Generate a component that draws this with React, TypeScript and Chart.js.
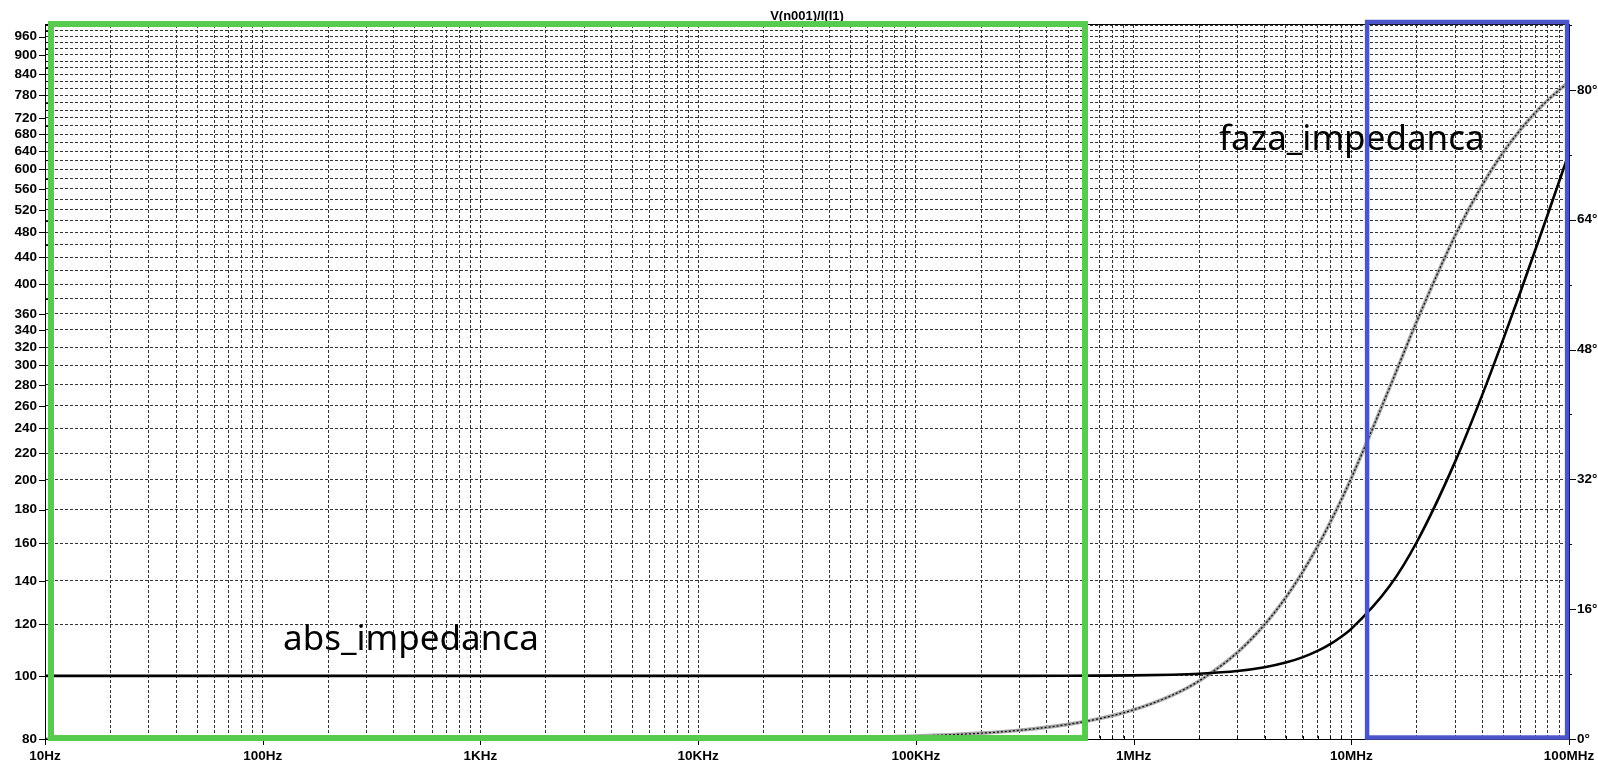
import React, { useEffect, useRef } from 'react';
import { Chart, registerables } from 'chart.js';

Chart.register(...registerables);

// ---- data (frequency in Hz) ----
const frequencies = [
  10, 30, 100, 300, 1e3, 3e3, 1e4, 3e4,
  1e5, 2e5, 3e5, 5e5, 7e5,
  1e6, 1.5e6, 2e6, 3e6, 4e6, 5e6, 6e6, 7e6, 8e6, 9e6,
  1e7, 1.5e7, 2e7, 3e7, 4e7, 5e7, 6e7, 7e7, 8e7, 9e7,
  1e8,
];
const absImpedance = [
  100, 100, 100, 100, 100, 100, 100, 100,
  100, 100.01, 100.02, 100.05, 100.1,
  100.2, 100.44, 100.79, 101.76, 103.11, 104.82, 106.87, 109.24, 111.92, 114.88,
  118.1, 137.4, 160.6, 213.4, 270.5, 329.7, 390.0, 451.1, 512.5, 574.3,
  636.2,
];
const phaseImpedance = [
  0, 0, 0, 0, 0, 0.01, 0.04, 0.11,
  0.36, 0.72, 1.08, 1.8, 2.52,
  3.6, 5.38, 7.16, 10.67, 14.11, 17.44, 20.66, 23.74, 26.69, 29.49,
  32.14, 43.3, 51.49, 62.05, 68.3, 72.34, 75.14, 77.19, 78.75, 79.97,
  80.96,
];

// ---- axes ----
const xDecadeLabels = ['10Hz', '100Hz', '1KHz', '10KHz', '100KHz', '1MHz', '10MHz', '100MHz'];
const absGridValues = [
  80, 100, 120, 140, 160, 180, 200, 220, 240, 260, 280, 300, 320, 340, 360, 380, 400,
  420, 440, 460, 480, 500, 520, 540, 560, 580, 600, 620, 640, 660, 680, 700, 720, 740,
  760, 780, 800, 820, 840, 860, 880, 900, 920, 940, 960, 980, 1000,
];
const absTickLabels = [
  80, 100, 120, 140, 160, 180, 200, 220, 240, 260, 280, 300, 320, 340, 360,
  400, 440, 480, 520, 560, 600, 640, 680, 720, 780, 840, 900, 960,
];
const phaseTickValues = [0, 8, 16, 24, 32, 40, 48, 56, 64, 72, 80, 88];
const phaseTickLabels = [0, 16, 32, 48, 64, 80];

const titleText = 'V(n001)/I(I1)';
const absLabelText = 'abs_impedanca';
const phaseLabelText = 'faza_impedanca';

// annotation anchors (data space)
const absLabelAnchor = { f: 124, z: 109.6 };
const phaseLabelAnchor = { f: 2.47e6, deg: 72.6 };
const greenBox = { fMin: 10.655, fMax: 5.987e5, zMin: 80.28, zMax: 1003.4 };
const blueBox = { fMin: 1.182e7, fMax: 9.8e7, degMin: 0.18, degMax: 88.37 };

const xGridValues: number[] = [];
for (let d = 1; d <= 7; d++) {
  for (let m = 1; m <= 9; m++) xGridValues.push(m * Math.pow(10, d));
}
xGridValues.push(1e8);

const tickFont = { family: '"Liberation Sans", Arial, sans-serif', size: 13.5, weight: 'bold' as const };

const overlayPlugin = {
  id: 'overlay',
  afterDatasetsDraw(chart: any) {
    const { ctx, chartArea: a, scales } = chart;
    const xs = scales.x, ys = scales.y, y2 = scales.y2;
    ctx.save();
    ctx.setLineDash([]);
    ctx.strokeStyle = '#000';
    ctx.lineWidth = 1;
    // frame
    ctx.strokeRect(a.left + 0.5, a.top - 0.5, a.right - a.left, a.bottom - a.top + 1);
    // tick marks
    ctx.beginPath();
    for (const v of absGridValues) {
      const py = Math.round(ys.getPixelForValue(v)) + 0.5;
      if (absTickLabels.includes(v)) {
        ctx.moveTo(a.left - 6, py); ctx.lineTo(a.left + 1, py);
      } else {
        ctx.moveTo(a.left, py); ctx.lineTo(a.left + 3, py);
      }
    }
    for (const v of xGridValues) {
      const px = Math.round(xs.getPixelForValue(v)) + 0.5;
      const isDecade = Math.abs(Math.log10(v) - Math.round(Math.log10(v))) < 1e-9;
      if (isDecade) {
        ctx.moveTo(px, a.bottom); ctx.lineTo(px, a.bottom + 6);
      } else {
        ctx.moveTo(px, a.bottom - 3); ctx.lineTo(px, a.bottom);
      }
    }
    for (const v of phaseTickValues) {
      const py = Math.round(y2.getPixelForValue(v)) + 0.5;
      if (phaseTickLabels.includes(v)) {
        ctx.moveTo(a.right, py); ctx.lineTo(a.right + 7, py);
      } else {
        ctx.moveTo(a.right, py); ctx.lineTo(a.right + 3, py);
      }
    }
    ctx.stroke();

    // title
    ctx.fillStyle = '#000';
    ctx.font = 'bold 13px "Liberation Sans", Arial, sans-serif';
    ctx.textAlign = 'center';
    ctx.textBaseline = 'alphabetic';
    ctx.fillText(titleText, (a.left + a.right) / 2, 20);

    // trace labels
    ctx.font = '35px "Noto Sans", sans-serif';
    ctx.textAlign = 'left';
    ctx.fillText(absLabelText, xs.getPixelForValue(absLabelAnchor.f), ys.getPixelForValue(absLabelAnchor.z));
    ctx.fillText(phaseLabelText, xs.getPixelForValue(phaseLabelAnchor.f), y2.getPixelForValue(phaseLabelAnchor.deg));

    // highlight boxes
    const gx0 = xs.getPixelForValue(greenBox.fMin), gx1 = xs.getPixelForValue(greenBox.fMax);
    const gy0 = ys.getPixelForValue(greenBox.zMax), gy1 = ys.getPixelForValue(greenBox.zMin);
    ctx.strokeStyle = '#57cb4d';
    ctx.lineWidth = 6;
    ctx.strokeRect(gx0, gy0, gx1 - gx0, gy1 - gy0);

    const bx0 = xs.getPixelForValue(blueBox.fMin), bx1 = xs.getPixelForValue(blueBox.fMax);
    const by0 = y2.getPixelForValue(blueBox.degMax), by1 = y2.getPixelForValue(blueBox.degMin);
    ctx.strokeStyle = '#4b55c9';
    ctx.lineWidth = 4.5;
    ctx.strokeRect(bx0, by0, bx1 - bx0, by1 - by0);
    ctx.restore();
  },
};

export default function App() {
  const canvasRef = useRef<HTMLCanvasElement | null>(null);

  useEffect(() => {
    const canvas = canvasRef.current;
    if (!canvas) return;
    const absPoints = frequencies.map((f, i) => ({ x: f, y: absImpedance[i] }));
    const phasePoints = frequencies.map((f, i) => ({ x: f, y: phaseImpedance[i] }));

    const chart = new Chart(canvas, {
      type: 'line',
      data: {
        datasets: [
          {
            label: absLabelText,
            data: absPoints,
            yAxisID: 'y',
            borderColor: '#000',
            borderWidth: 2.6,
            pointRadius: 0,
            cubicInterpolationMode: 'monotone',
            order: 1,
          },
          {
            label: phaseLabelText + ' dots',
            data: phasePoints,
            yAxisID: 'y2',
            borderColor: '#111',
            borderWidth: 1.3,
            borderDash: [2, 2],
            pointRadius: 0,
            cubicInterpolationMode: 'monotone',
            order: 2,
          },
          {
            label: phaseLabelText,
            data: phasePoints,
            yAxisID: 'y2',
            borderColor: '#a8a8a8',
            borderWidth: 3.6,
            pointRadius: 0,
            cubicInterpolationMode: 'monotone',
            order: 3,
          },
        ],
      },
      options: {
        animation: false,
        responsive: false,
        maintainAspectRatio: false,
        devicePixelRatio: 1,
        layout: { padding: { top: 25, left: 0, right: 0, bottom: 0 } },
        plugins: {
          legend: { display: false },
          tooltip: { enabled: false },
          title: { display: false },
        },
        scales: {
          x: {
            type: 'logarithmic',
            min: 10,
            max: 1e8,
            afterBuildTicks: (s: any) => {
              s.ticks = xGridValues.map((v) => ({ value: v }));
            },
            afterFit: (s: any) => {
              s.height = 23;
              s.paddingLeft = 0; s.paddingRight = 0; s.paddingTop = 0; s.paddingBottom = 0;
            },
            grid: { color: '#333', lineWidth: 1, drawTicks: false },
            border: { display: false, dash: [3, 2] },
            ticks: {
              autoSkip: false,
              maxRotation: 0,
              minRotation: 0,
              padding: 9,
              color: '#000',
              font: tickFont,
              callback: (v: any) => {
                const lg = Math.log10(Number(v));
                if (Math.abs(lg - Math.round(lg)) < 1e-9) return xDecadeLabels[Math.round(lg) - 1] ?? '';
                return '';
              },
            },
          },
          y: {
            type: 'logarithmic',
            position: 'left',
            min: 80,
            max: 1000,
            afterBuildTicks: (s: any) => {
              s.ticks = absGridValues.map((v) => ({ value: v }));
            },
            afterFit: (s: any) => {
              s.width = 45;
              s.paddingLeft = 0; s.paddingRight = 0; s.paddingTop = 0; s.paddingBottom = 0;
            },
            grid: { color: '#333', lineWidth: 1, drawTicks: false },
            border: { display: false, dash: [3, 2] },
            ticks: {
              autoSkip: false,
              padding: 8,
              color: '#000',
              font: tickFont,
              callback: (v: any) => (absTickLabels.includes(Number(v)) ? String(v) : ''),
            },
          },
          y2: {
            type: 'linear',
            position: 'right',
            min: 0,
            max: 88,
            afterBuildTicks: (s: any) => {
              s.ticks = phaseTickValues.map((v) => ({ value: v }));
            },
            afterFit: (s: any) => {
              s.width = 29;
              s.paddingLeft = 0; s.paddingRight = 0; s.paddingTop = 0; s.paddingBottom = 0;
            },
            grid: { display: false, drawTicks: false },
            border: { display: false },
            ticks: {
              autoSkip: false,
              padding: 8,
              color: '#000',
              font: tickFont,
              callback: (v: any) => (phaseTickLabels.includes(Number(v)) ? `${v}°` : ''),
            },
          },
        },
      },
      plugins: [overlayPlugin],
    } as any);

    return () => chart.destroy();
  }, []);

  return (
    <div style={{ position: 'fixed', left: 0, top: 0, width: 1598, height: 762, background: '#fff' }}>
      <canvas ref={canvasRef} width={1598} height={762} style={{ display: 'block', width: 1598, height: 762 }} />
    </div>
  );
}
